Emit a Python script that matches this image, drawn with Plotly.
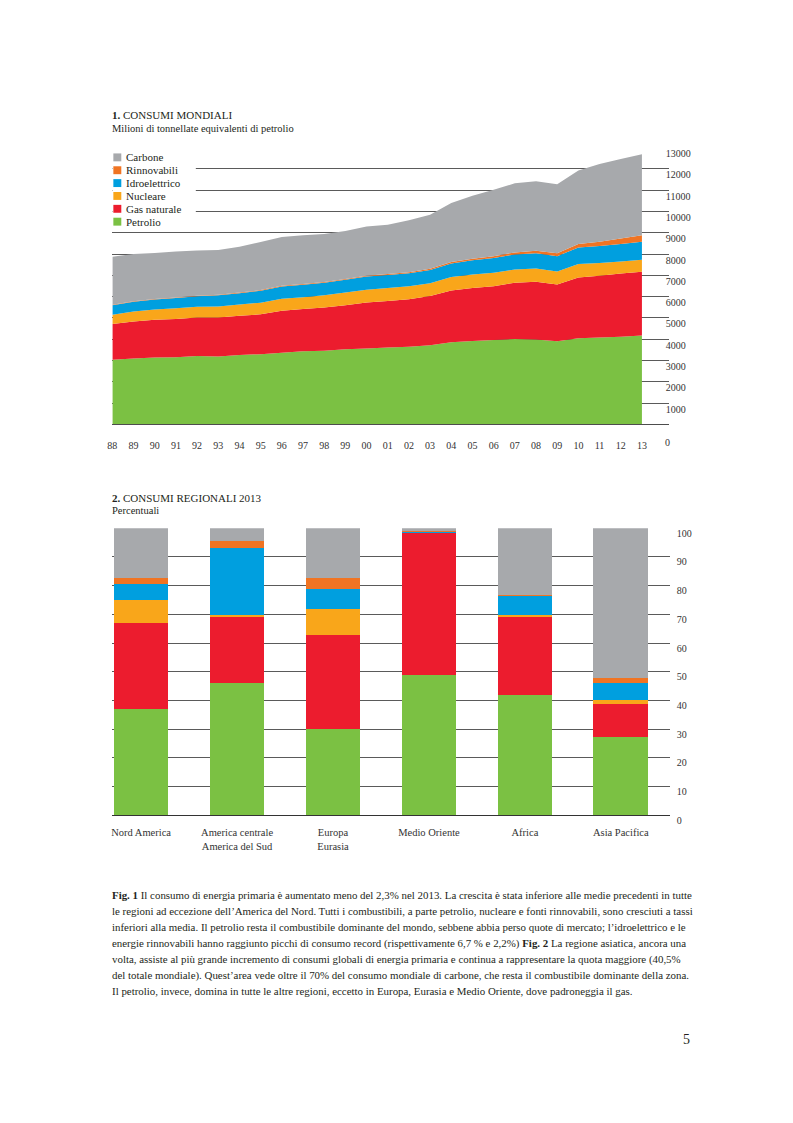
import plotly.graph_objects as go

# ---------------- DATA ----------------
years = list(range(1988, 2014))
year_labels = ["88", "89", "90", "91", "92", "93", "94", "95", "96", "97", "98", "99",
               "00", "01", "02", "03", "04", "05", "06", "07", "08", "09", "10", "11", "12", "13"]

petrolio = [3040, 3100, 3140, 3150, 3210, 3190, 3260, 3300, 3360, 3440, 3460, 3530, 3570,
            3610, 3650, 3720, 3860, 3920, 3960, 4010, 3990, 3910, 4050, 4080, 4120, 4170]
gas = [1670, 1730, 1770, 1800, 1810, 1830, 1840, 1870, 1980, 1975, 2030, 2070, 2150,
       2190, 2225, 2310, 2430, 2490, 2530, 2645, 2710, 2655, 2850, 2900, 2965, 2995]
nucleare = [440, 470, 480, 500, 505, 520, 530, 545, 565, 560, 570, 590, 600,
            610, 610, 600, 625, 630, 635, 620, 620, 610, 625, 600, 560, 565]
idro = [450, 460, 480, 490, 495, 520, 530, 560, 570, 580, 585, 600, 620,
        600, 610, 620, 640, 665, 690, 705, 720, 725, 780, 790, 830, 850]
rinnovabili = [15, 18, 20, 22, 24, 26, 28, 30, 32, 35, 38, 40, 45,
               48, 52, 58, 65, 75, 85, 95, 115, 130, 170, 205, 250, 300]
carbone = [2253, 2228, 2162, 2151, 2116, 2104, 2156, 2253, 2297, 2290, 2259, 2250, 2309,
           2313, 2439, 2539, 2779, 2956, 3112, 3244, 3256, 3243, 3442, 3649, 3729, 3804]

y1_ticks = [1000, 2000, 3000, 4000, 5000, 6000, 7000, 8000, 9000, 10000, 11000, 12000, 13000]

regioni = ["Nord America", "America centrale<br>America del Sud", "Europa<br>Eurasia",
           "Medio Oriente", "Africa", "Asia Pacifica"]
reg_petrolio = [37.0, 46.2, 30.0, 49.0, 41.9, 27.4]
reg_gas = [30.0, 22.9, 32.8, 49.3, 27.3, 11.3]
reg_nucleare = [8.0, 0.6, 9.0, 0.0, 0.6, 1.6]
reg_idro = [5.6, 23.4, 7.1, 0.5, 6.6, 5.9]
reg_rinnovabili = [2.0, 2.6, 3.8, 0.1, 0.3, 1.5]
reg_carbone = [17.4, 4.3, 17.3, 1.1, 23.3, 52.3]
y2_ticks = [0, 10, 20, 30, 40, 50, 60, 70, 80, 90, 100]

caption_lines = [
    "<b>Fig. 1</b> Il consumo di energia primaria è aumentato meno del 2,3% nel 2013. La crescita è stata inferiore alle medie precedenti in tutte",
    "le regioni ad eccezione dell’America del Nord. Tutti i combustibili, a parte petrolio, nucleare e fonti rinnovabili, sono cresciuti a tassi",
    "inferiori alla media. Il petrolio resta il combustibile dominante del mondo, sebbene abbia perso quote di mercato; l’idroelettrico e le",
    "energie rinnovabili hanno raggiunto picchi di consumo record (rispettivamente 6,7 % e 2,2%) <b>Fig. 2</b> La regione asiatica, ancora una",
    "volta, assiste al più grande incremento di consumi globali di energia primaria e continua a rappresentare la quota maggiore (40,5%",
    "del totale mondiale). Quest’area vede oltre il 70% del consumo mondiale di carbone, che resta il combustibile dominante della zona.",
    "Il petrolio, invece, domina in tutte le altre regioni, eccetto in Europa, Eurasia e Medio Oriente, dove padroneggia il gas.",
]

# ---------------- STYLE ----------------
PAGE_W, PAGE_H = 793, 1123
OFF = 8  # default body margin of the html page
W, H = PAGE_W - 2 * OFF, PAGE_H - 2 * OFF
FONT = "Liberation Serif, Times New Roman, DejaVu Serif, serif"
TXT = "#231f20"
C_CARB = "#a7a9ac"
C_RINN = "#f07423"
C_IDRO = "#009fdf"
C_NUCL = "#f9a61a"
C_GAS = "#ec1c2e"
C_PETR = "#7bc143"
GRID = "#5a5a5a"


def fx(px):
    return (px - OFF) / W


def fy(py):
    return (H - (py - OFF)) / H


series = [
    ("Petrolio", petrolio, reg_petrolio, C_PETR),
    ("Gas naturale", gas, reg_gas, C_GAS),
    ("Nucleare", nucleare, reg_nucleare, C_NUCL),
    ("Idroelettrico", idro, reg_idro, C_IDRO),
    ("Rinnovabili", rinnovabili, reg_rinnovabili, C_RINN),
    ("Carbone", carbone, reg_carbone, C_CARB),
]

fig = go.Figure()

for name, vals, rvals, col in series:
    fig.add_trace(go.Scatter(
        x=years, y=vals, name=name, mode="none", stackgroup="one",
        fillcolor=col, line=dict(width=0), showlegend=False,
        xaxis="x", yaxis="y", hoverinfo="x+y+name"))

for name, vals, rvals, col in series:
    fig.add_trace(go.Bar(
        x=regioni, y=rvals, name=name, marker=dict(color=col, line=dict(width=0)),
        width=0.57, showlegend=False, xaxis="x2", yaxis="y2"))

px_per_year = (641 - 108) / 25.0
x1_max = 1988 + (668 - 108) / px_per_year

fig.update_layout(
    width=W, height=H,
    margin=dict(l=0, r=0, t=0, b=0),
    paper_bgcolor="white", plot_bgcolor="white",
    barmode="stack",
    font=dict(family=FONT, color=TXT),
    xaxis=dict(domain=[fx(108), fx(668)], range=[1988, x1_max], anchor="y",
               tickmode="array", tickvals=years, ticktext=year_labels,
               showgrid=False, zeroline=False, showline=True, linecolor="#4d4d4d",
               linewidth=1.3, ticks="", ticklabelstandoff=11,
               tickfont=dict(family=FONT, size=10, color="#333333")),
    yaxis=dict(domain=[fy(428), fy(148)], range=[0, 13000], anchor="x", side="right",
               tickmode="array", tickvals=y1_ticks, ticktext=[str(v) for v in y1_ticks],
               showgrid=True, gridcolor=GRID, gridwidth=1, zeroline=False,
               showline=False, ticks="", ticklabelshift=6, ticklabelstandoff=-4,
               tickfont=dict(family=FONT, size=10, color="#333333")),
    xaxis2=dict(domain=[fx(108), fx(669)], range=[-0.3, 5.51], anchor="y2",
                type="category", showgrid=False, zeroline=False, showline=True,
                linecolor="#333333", linewidth=1.3, ticks="", ticklabelstandoff=7,
                tickfont=dict(family=FONT, size=10.5, color="#333333")),
    yaxis2=dict(domain=[fy(823), fy(533)], range=[0, 100], anchor="x2", side="right",
                tickmode="array", tickvals=y2_ticks, ticktext=[str(v) for v in y2_ticks],
                showgrid=True, gridcolor=GRID, gridwidth=1, zeroline=False,
                showline=False, ticks="", ticklabelshift=5, ticklabelstandoff=6,
                tickfont=dict(family=FONT, size=10, color="#333333")),
)

shapes = []
annotations = []

# white block behind the legend (hides grid lines there)
shapes.append(dict(type="rect", xref="paper", yref="paper",
                   x0=fx(108), x1=fx(192), y0=fy(230), y1=fy(151),
                   fillcolor="white", line=dict(width=0), layer="above"))

legend_items = [("Carbone", C_CARB), ("Rinnovabili", C_RINN), ("Idroelettrico", C_IDRO),
                ("Nucleare", C_NUCL), ("Gas naturale", C_GAS), ("Petrolio", C_PETR)]
for i, (lab, col) in enumerate(legend_items):
    cy = 158 + 13 * i
    shapes.append(dict(type="rect", xref="paper", yref="paper",
                       x0=fx(109), x1=fx(117), y0=fy(cy + 4), y1=fy(cy - 4),
                       fillcolor=col, line=dict(width=0), layer="above"))
    annotations.append(dict(text=lab, xref="paper", yref="paper", x=fx(120), y=fy(cy),
                            xanchor="left", yanchor="middle", showarrow=False,
                            font=dict(family=FONT, size=11, color=TXT)))

# titles
annotations += [
    dict(text="<b>1.</b> CONSUMI MONDIALI", xref="paper", yref="paper", x=fx(106), y=fy(115),
         xanchor="left", yanchor="middle", showarrow=False, font=dict(family=FONT, size=11, color=TXT)),
    dict(text="Milioni di tonnellate equivalenti di petrolio", xref="paper", yref="paper",
         x=fx(106), y=fy(129), xanchor="left", yanchor="middle", showarrow=False,
         font=dict(family=FONT, size=10.5, color=TXT)),
    dict(text="<b>2.</b> CONSUMI REGIONALI 2013", xref="paper", yref="paper", x=fx(106), y=fy(502),
         xanchor="left", yanchor="middle", showarrow=False, font=dict(family=FONT, size=11, color=TXT)),
    dict(text="Percentuali", xref="paper", yref="paper", x=fx(106), y=fy(515),
         xanchor="left", yanchor="middle", showarrow=False, font=dict(family=FONT, size=10.5, color=TXT)),
    dict(text="0", xref="paper", yref="paper", x=fx(667), y=fy(446),
         xanchor="center", yanchor="middle", showarrow=False, font=dict(family=FONT, size=10, color="#333333")),
    dict(text="5", xref="paper", yref="paper", x=fx(686), y=fy(1050),
         xanchor="center", yanchor="middle", showarrow=False, font=dict(family=FONT, size=14, color=TXT)),
]

for i, line in enumerate(caption_lines):
    annotations.append(dict(text=line, xref="paper", yref="paper", x=fx(106), y=fy(904 + 16.2 * i),
                            xanchor="left", yanchor="middle", showarrow=False,
                            font=dict(family=FONT, size=10.9, color=TXT)))

fig.update_layout(shapes=shapes, annotations=annotations)

fig.write_html("out.html")
